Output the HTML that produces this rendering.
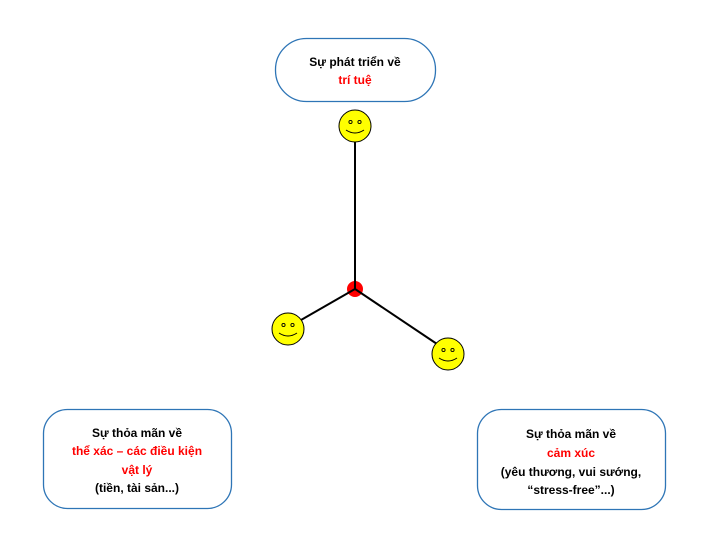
<!DOCTYPE html>
<html><head><meta charset="utf-8"><style>
html,body{margin:0;padding:0;background:#fff;}
svg{display:block;}
text{font-family:"Liberation Sans",sans-serif;font-weight:bold;font-size:12px;text-anchor:middle;}
.r{fill:#ff0000;}
</style></head><body>
<svg width="705" height="559" viewBox="0 0 705 559">
<rect x="275.5" y="38.5" width="160" height="63" rx="31" fill="#fff" stroke="#2e75b6" stroke-width="1.3"/>
<text x="355" y="66">Sự phát triển về</text>
<text x="355" y="84" class="r">trí tuệ</text>

<rect x="43.5" y="409.5" width="188" height="99" rx="24" fill="#fff" stroke="#2e75b6" stroke-width="1.3"/>
<text x="137" y="437">Sự thỏa mãn về</text>
<text x="137" y="455" class="r">thể xác – các điều kiện</text>
<text x="137" y="474" class="r">vật lý</text>
<text x="137" y="492">(tiền, tài sản...)</text>

<rect x="477.5" y="409.5" width="188" height="100" rx="24" fill="#fff" stroke="#2e75b6" stroke-width="1.3"/>
<text x="571" y="438">Sự thỏa mãn về</text>
<text x="571" y="457" class="r">cảm xúc</text>
<text x="571" y="476">(yêu thương, vui sướng,</text>
<text x="571" y="494">“stress-free”...)</text>

<circle cx="355" cy="289" r="8" fill="#ff0000"/>
<line x1="355" y1="141" x2="355" y2="289" stroke="#000" stroke-width="2"/>
<line x1="355" y1="289" x2="301" y2="320" stroke="#000" stroke-width="2"/>
<line x1="355" y1="289" x2="437" y2="344" stroke="#000" stroke-width="2"/>

<g id="s1" transform="translate(355,126)">
<circle r="16" fill="#ffff00" stroke="#000" stroke-width="1"/>
<circle cx="-4.5" cy="-4" r="1.6" fill="none" stroke="#000" stroke-width="0.9"/>
<circle cx="4.5" cy="-4" r="1.6" fill="none" stroke="#000" stroke-width="0.9"/>
<path d="M-9 4 Q0 10 9 4" fill="none" stroke="#000" stroke-width="1"/>
</g>
<use href="#s1" transform="translate(-67,203)"/>
<use href="#s1" transform="translate(93,228)"/>
</svg>
</body></html>
